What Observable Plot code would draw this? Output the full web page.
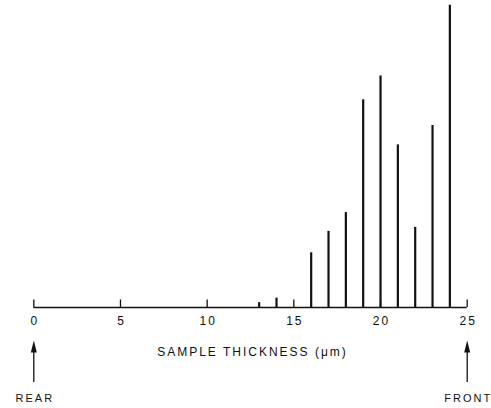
<!DOCTYPE html>
<html>
<head>
<meta charset="utf-8">
<script src="https://cdn.jsdelivr.net/npm/d3@7"></script>
<script src="https://cdn.jsdelivr.net/npm/@observablehq/plot@0.6"></script>
<style>
  html, body { margin: 0; padding: 0; background: #fff; }
</style>
</head>
<body>
<div id="chart"></div>
<script>
// Data (relative intensity, max = 100)
const thickness = [13, 14, 16, 17, 18, 19, 20, 21, 22, 23, 24];
const intensity = [1.6, 3.1, 18.1, 25.2, 31.4, 68.7, 76.6, 53.8, 26.5, 60.2, 100];
const tickValues = [0, 5, 10, 15, 20, 25];
const tickLabels = ["0", "5", "10", "15", "20", "25"];
const markerPositions = [0, 25];
const markerLabels = ["REAR", "FRONT"];
const axisLabel = "SAMPLE THICKNESS (\u03bcm)";

const data = thickness.map((t, i) => ({t, v: intensity[i]}));
const markers = markerPositions.map((x, i) => ({x, label: markerLabels[i]}));

const arrowHead = {
  draw(ctx) {
    ctx.moveTo(0, -10);
    ctx.lineTo(3, 2);
    ctx.lineTo(-3, 2);
    ctx.closePath();
  }
};

const chart = Plot.plot({
  width: 491,
  height: 408,
  marginLeft: 33.3,
  marginRight: 24.3,
  marginTop: 4.7,
  marginBottom: 101,
  style: {fontFamily: "'Liberation Sans', Arial, sans-serif", fontSize: "12px", letterSpacing: "2px", color: "#111", background: "#fff"},
  x: {domain: [0, 25], axis: null},
  y: {domain: [0, 100], axis: null},
  marks: [
    Plot.ruleY([0], {stroke: "#111", strokeWidth: 1.5}),
    Plot.ruleX(tickValues, {x: d => d, y1: 0, y2: 2.5, stroke: "#111", strokeWidth: 1.3}),
    Plot.ruleX(data, {x: "t", y1: 0, y2: "v", stroke: "#111", strokeWidth: 2.2}),
    Plot.text(tickValues, {x: d => d, y: 0, dy: 14, text: (d, i) => tickLabels[i], fill: "#111", fontSize: 12, dx: 1}),
    Plot.text([axisLabel], {frameAnchor: "bottom", lineAnchor: "middle", dy: 45, dx: 2, text: d => d, fill: "#111", fontSize: 12, letterSpacing: "2.3px"}),
    Plot.ruleX(markers, {x: "x", y1: -14.2, y2: -24.8, stroke: "#111", strokeWidth: 1.3}),
    Plot.dot(markers, {x: "x", y: -14.2, symbol: arrowHead, fill: "#111", stroke: "none"}),
    Plot.text(markers, {x: "x", y: -30.1, text: "label", fill: "#111", fontSize: 11, letterSpacing: "2px", dx: 1})
  ]
});

document.getElementById("chart").appendChild(chart);
</script>
</body>
</html>
